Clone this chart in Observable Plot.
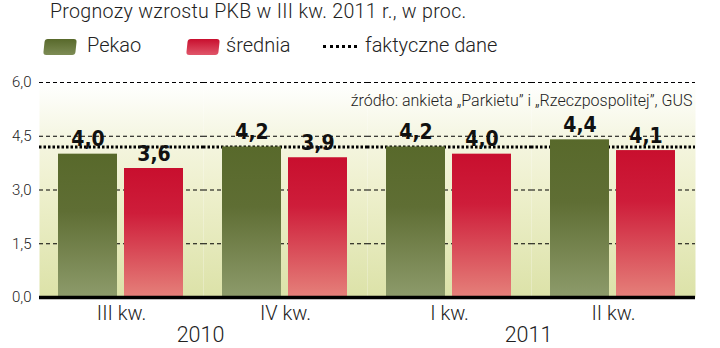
<!DOCTYPE html>
<html><head><meta charset="utf-8">
<script src="https://cdn.jsdelivr.net/npm/d3@7"></script>
<script src="https://cdn.jsdelivr.net/npm/@observablehq/plot@0.6"></script>
<style>
body{margin:0;background:#fff;width:720px;height:348px;overflow:hidden;position:relative;font-family:Roboto,sans-serif;color:#222;}
#title{position:absolute;left:50px;top:0px;font-size:19.6px;letter-spacing:0.3px;font-weight:300;white-space:nowrap;}
.sw{position:absolute;width:32px;height:16px;border-radius:3px;transform:skewX(-6deg);}
.lt{position:absolute;font-size:20px;font-weight:300;white-space:nowrap;line-height:20px;}
#dots{position:absolute;left:323px;top:45px;width:34px;height:0;border-top:3px dotted #000;}
#chart{position:absolute;left:0;top:62px;}
</style></head>
<body>
<div id="title">Prognozy wzrostu PKB w III kw. 2011 r., w proc.</div>
<div class="sw" style="left:44px;top:39px;background:linear-gradient(#58692b,#7d8c55);"></div>
<div class="lt" id="l1" style="left:87px;top:35px;"></div>
<div class="sw" style="left:187px;top:39px;background:linear-gradient(#c80f2e,#e0566a);"></div>
<div class="lt" id="l2" style="left:226px;top:35px;"></div>
<div id="dots"></div>
<div class="lt" id="l3" style="left:365px;top:35px;"></div>
<div id="chart"></div>
<script>
const quarters = ["III kw.", "IV kw.", "I kw.", "II kw."];
const years = ["2010", "2010", "2011", "2011"];
const seriesNames = ["Pekao", "średnia"];
const pekao = [4.0, 4.2, 4.2, 4.4];
const srednia = [3.6, 3.9, 4.0, 4.1];
const actual = 4.2;
const actualLabel = "faktyczne dane";
const yTicks = [0, 1.5, 3.0, 4.5, 6.0];
const source = "źródło: ankieta „Parkietu” i „Rzeczpospolitej”, GUS";

document.getElementById("l1").textContent = seriesNames[0];
document.getElementById("l2").textContent = seriesNames[1];
document.getElementById("l3").textContent = actualLabel;

const periods = quarters.map((q, i) => q + " " + years[i]);
const rows = [];
periods.forEach((p, i) => {
  rows.push({period: p, series: seriesNames[0], value: pekao[i]});
  rows.push({period: p, series: seriesNames[1], value: srednia[i]});
});
const fmt = d => d.toFixed(1).replace(".", ",");
const qOf = p => quarters[periods.indexOf(p)];
const yearRows = [{period: periods[0], year: years[0]}, {period: periods[2], year: years[2]}];

const chart = Plot.plot({
  width: 720, height: 286,
  marginTop: 20, marginBottom: 51, marginLeft: 38, marginRight: 25,
  style: {fontFamily: "Roboto, sans-serif", background: "transparent", color: "#222"},
  fx: {domain: periods, padding: 0, label: null, axis: null},
  x: {domain: seriesNames, paddingInner: 0.106, paddingOuter: 0.29, axis: null},
  y: {domain: [0, 6], axis: null},
  marks: [
    Plot.frame({fill: "url(#bgGrad)", stroke: "none"}),
    Plot.ruleY(yTicks.filter(d => d > 0), {stroke: "#000", strokeWidth: 1, strokeDasharray: "4,3"}),
    Plot.ruleY([actual], {stroke: "#000", strokeWidth: 3, strokeDasharray: "2.5,2"}),
    Plot.barY(rows.filter(d => d.series === seriesNames[0]), {fx: "period", x: "series", y: "value", fill: "url(#gPekao)"}),
    Plot.barY(rows.filter(d => d.series === seriesNames[1]), {fx: "period", x: "series", y: "value", fill: "url(#gSred)"}),
    Plot.ruleY([0], {stroke: "#000", strokeWidth: 3.5}),
    Plot.text(rows, {fx: "period", x: "series", y: "value", text: d => fmt(d.value), dy: -8, lineAnchor: "bottom",
      fontFamily: "DejaVu Sans Condensed", fontWeight: "bold", fontSize: 21, fill: "#111"}),
    Plot.axisY({ticks: yTicks, tickFormat: fmt, tickSize: 0, tickPadding: 8, fontSize: 15, fontWeight: 300, label: null}),
    Plot.axisFx({anchor: "bottom", tickFormat: qOf, tickSize: 0, tickPadding: 8, fontSize: 20, fontWeight: 300, label: null}),
    Plot.text(yearRows, {fx: "period", text: "year", frameAnchor: "bottom-right", textAnchor: "middle", dx: -3, dy: 44, fontSize: 21.5, fontWeight: 300}),
    Plot.text([{period: periods[3], t: source}], {fx: "period", text: "t", frameAnchor: "top-right", textAnchor: "end", dx: -3, dy: 12, fontSize: 16, fontWeight: 300})
  ]
});

d3.select(chart).insert("defs", ":first-child").html(`
  <linearGradient id="bgGrad" x1="0" y1="0" x2="0" y2="1">
    <stop offset="0" stop-color="#ffffff"/>
    <stop offset="0.25" stop-color="#f5f6e2"/>
    <stop offset="0.5" stop-color="#eef0cd"/>
    <stop offset="1" stop-color="#dce2a8"/>
  </linearGradient>
  <linearGradient id="gPekao" x1="0" y1="0" x2="0" y2="1">
    <stop offset="0" stop-color="#58692b"/>
    <stop offset="0.4" stop-color="#5f6e34"/>
    <stop offset="1" stop-color="#8d9b6b"/>
  </linearGradient>
  <linearGradient id="gSred" x1="0" y1="0" x2="0" y2="1">
    <stop offset="0" stop-color="#c80f2e"/>
    <stop offset="0.35" stop-color="#ce1d3a"/>
    <stop offset="1" stop-color="#e5807a"/>
  </linearGradient>`);
document.getElementById("chart").appendChild(chart);
</script>
</body></html>
